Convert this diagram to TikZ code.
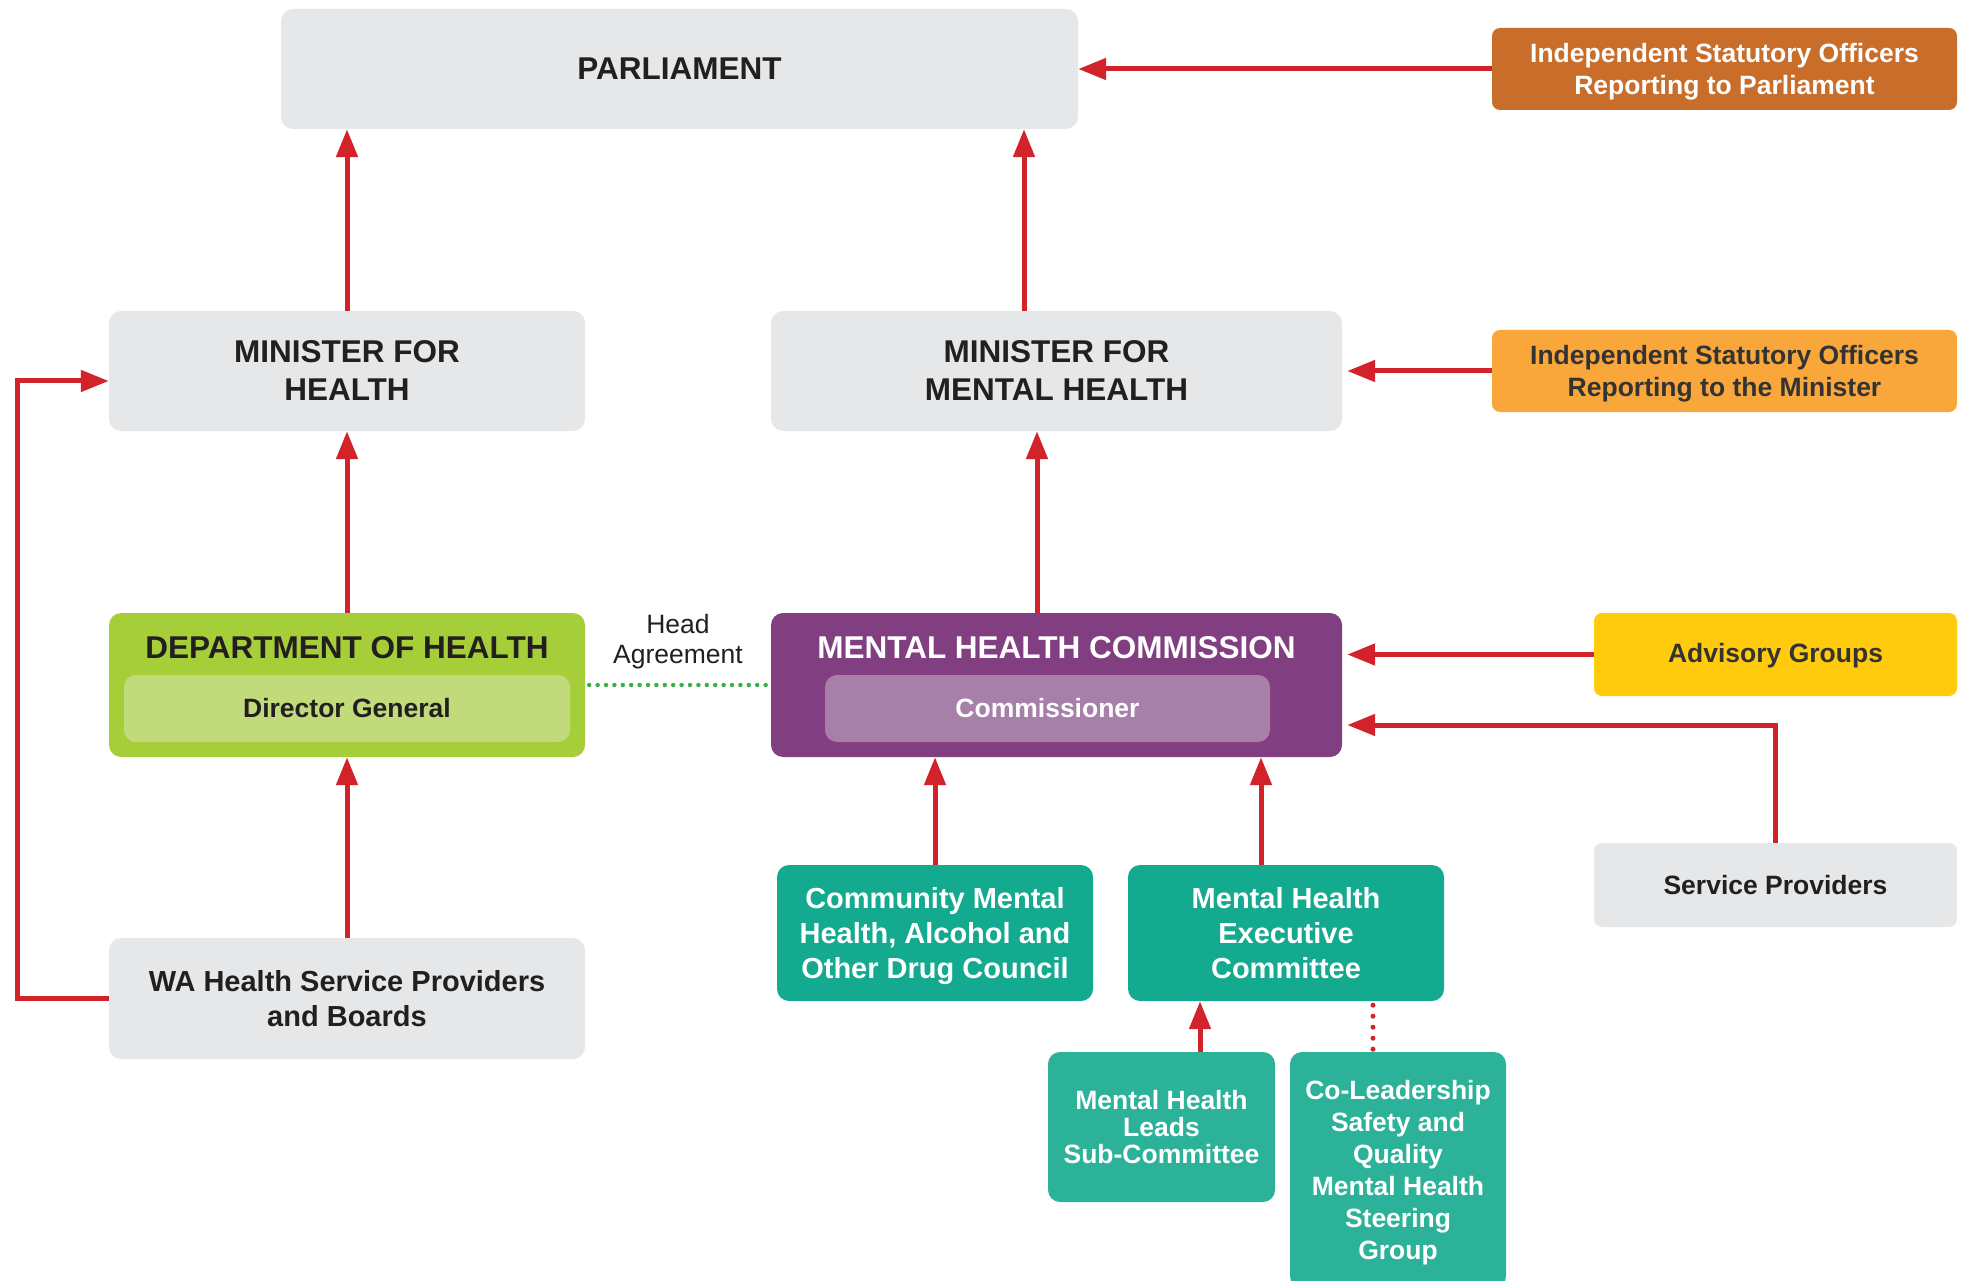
\documentclass[tikz,border=0pt]{standalone}
\usepackage{fontspec}
\setmainfont{Liberation Sans}
\usetikzlibrary{arrows.meta}
\definecolor{boxgrey}{HTML}{E6E7E8}
\definecolor{txtdark}{HTML}{231F20}
\definecolor{txtgrey}{HTML}{333333}
\definecolor{isopar}{HTML}{C86D2A}
\definecolor{isomin}{HTML}{F9A73B}
\definecolor{advis}{HTML}{FFCB0C}
\definecolor{dohgreen}{HTML}{A6CE39}
\definecolor{dohinner}{HTML}{C2DB7A}
\definecolor{mhcpurple}{HTML}{813F82}
\definecolor{mhcinner}{HTML}{A680A8}
\definecolor{tealA}{HTML}{13AA8F}
\definecolor{tealB}{HTML}{2BB298}
\definecolor{arrred}{HTML}{D2232A}
\definecolor{dotgreen}{HTML}{3DAE49}
\newcommand\fsz[2]{\fontsize{#1}{#2}\selectfont}
\begin{document}
\begin{tikzpicture}[x=1pt,y=-1pt,
  box/.style={rounded corners=12pt, inner sep=0pt, align=center, draw=none},
  greybox/.style={box, fill=boxgrey, text=txtdark},
  bigtxt/.style={font=\bfseries\fsz{31.5}{38}},
  midtxt/.style={font=\bfseries\fsz{29}{35}},
  smalltxt/.style={font=\bfseries\fsz{26.5}{32}},
  arr/.style={draw=arrred, line width=5pt, -{Triangle[length=28pt,width=21pt]}},
  reddots/.style={draw=arrred, line width=5pt, line cap=round, dash pattern=on 0pt off 11pt},
  greendots/.style={draw=dotgreen, line width=4.5pt, line cap=round, dash pattern=on 0pt off 8.4pt}
]
\useasboundingbox (0,0) rectangle (1966,1281);
\clip (0,0) rectangle (1966,1281);

% boxes
\node[greybox, bigtxt, minimum width=797pt, minimum height=120pt] (parl) at (679.5,69) {PARLIAMENT};
\node[greybox, bigtxt, minimum width=476pt, minimum height=120pt] (mfh) at (347,371) {MINISTER FOR\\HEALTH};
\node[greybox, bigtxt, minimum width=571pt, minimum height=120pt] (mfmh) at (1056.5,371) {MINISTER FOR\\MENTAL HEALTH};
\node[box, fill=isopar, rounded corners=8pt, minimum width=465pt, minimum height=82pt] (isop) at (1724.5,69) {};
\node[smalltxt, text=white, align=center, inner sep=0pt] (isopT) at (1724.5,71.5) {Independent Statutory Officers\\Reporting to Parliament};
\node[box, fill=isomin, rounded corners=8pt, minimum width=465pt, minimum height=82pt] (isom) at (1724.5,371) {};
\node[smalltxt, text=txtgrey, align=center, inner sep=0pt] (isomT) at (1724.5,373.5) {Independent Statutory Officers\\Reporting to the Minister};

\node[box, fill=dohgreen, minimum width=476pt, minimum height=144pt] (doh) at (347,685) {};
\node[bigtxt, text=txtdark, inner sep=0pt] (dohT) at (347,648) {DEPARTMENT OF HEALTH};
\node[box, smalltxt, fill=dohinner, text=txtdark, minimum width=446pt, minimum height=67pt] (dg) at (347,708.5) {Director General};

\node[box, fill=mhcpurple, minimum width=571pt, minimum height=144pt] (mhc) at (1056.5,685) {};
\node[bigtxt, text=white, inner sep=0pt] (mhcT) at (1056.5,648) {MENTAL HEALTH COMMISSION};
\node[box, smalltxt, fill=mhcinner, text=white, minimum width=445pt, minimum height=67pt] (comm) at (1047.5,708.5) {Commissioner};

\node[box, fill=advis, rounded corners=8pt, minimum width=363pt, minimum height=83pt] (adv) at (1775.5,654.5) {};
\node[smalltxt, text=txtgrey, inner sep=0pt] (advT) at (1775.5,656) {Advisory Groups};
\node[greybox, smalltxt, rounded corners=8pt, minimum width=363pt, minimum height=84pt] (sp) at (1775.5,885) {Service Providers};

\node[greybox, midtxt, minimum width=476pt, minimum height=121pt] (wa) at (347,998.5) {WA Health Service Providers\\and Boards};

\node[box, fill=tealA, minimum width=316pt, minimum height=136pt] (cmh) at (935,933) {};
\node[midtxt, text=white, align=center, inner sep=0pt] (cmhT) at (935,936.5) {Community Mental\\Health, Alcohol and\\Other Drug Council};
\node[box, midtxt, fill=tealA, text=white, minimum width=316pt, minimum height=136pt] (mhe) at (1286,933) {Mental Health\\Executive\\Committee};
\node[box, font=\bfseries\fsz{26.5}{27}, fill=tealB, text=white, minimum width=227pt, minimum height=150pt] (mhl) at (1161.5,1127) {Mental Health\\Leads\\Sub-Committee};
\node[box, fill=tealB, minimum width=216pt, minimum height=236pt] (col) at (1398,1170) {};
\node[smalltxt, text=white, align=center, inner sep=0pt] (colT) at (1398,1172.5) {Co-Leadership\\Safety and\\Quality\\Mental Health\\Steering\\Group};

\node[font=\fsz{26.5}{30}, text=txtdark, align=center, inner sep=0pt] (head) at (678,642) {Head\\Agreement};

% connectors
\draw[arr] (mfh.north) -- (mfh.north |- parl.south);
\draw[arr] ([xshift=-32.5pt]mfmh.north) -- ([xshift=-32.5pt]mfmh.north |- parl.south);
\draw[arr] (doh.north) -- (doh.north |- mfh.south);
\draw[arr] ([xshift=-19.5pt]mhc.north) -- ([xshift=-19.5pt]mhc.north |- mfmh.south);
\draw[arr] (wa.north) -- (wa.north |- doh.south);
\draw[arr] (wa.west) -- ++(-91.5,0) |- ([yshift=-10pt]mfh.west);
\draw[arr] (isop.west) -- (isop.west -| parl.east);
\draw[arr, shorten >=5pt] (isom.west) -- (isom.west -| mfmh.east);
\draw[arr, shorten >=5pt] (adv.west) -- (adv.west -| mhc.east);
\draw[arr, shorten >=5pt] (sp.north) |- ([yshift=-40pt]mhc.east);
\draw[arr] (cmh.north) -- (cmh.north |- mhc.south);
\draw[arr] ([xshift=-25pt]mhe.north) -- ([xshift=-25pt]mhe.north |- mhc.south);
\draw[arr] ([xshift=38.5pt]mhl.north) -- ([xshift=38.5pt]mhl.north |- mhe.south);
\draw[reddots] ([xshift=-25pt,yshift=-4pt]col.north |- mhe.south) -- ([xshift=-25pt,yshift=2pt]col.north);
\draw[greendots] ([xshift=4pt]doh.east) -- ([xshift=-2pt]doh.east -| mhc.west);
\end{tikzpicture}
\end{document}
